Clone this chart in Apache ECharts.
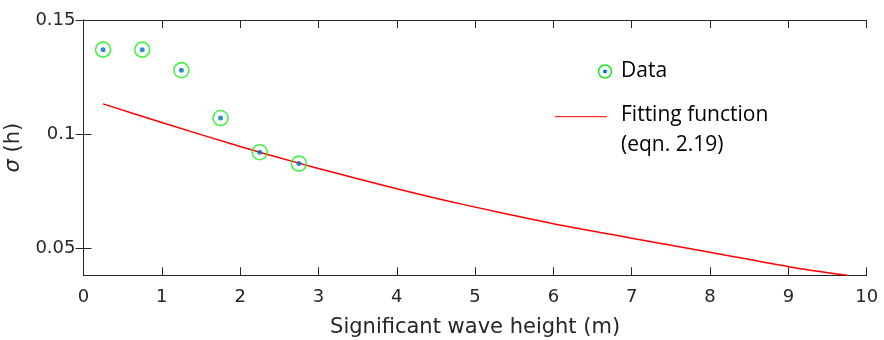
<!DOCTYPE html>
<html>
<head>
<meta charset="utf-8">
<script src="https://cdn.jsdelivr.net/npm/echarts@6/dist/echarts.min.js"></script>
<style>html,body{margin:0;padding:0;background:#fff}#c{width:884px;height:340px}</style>
</head>
<body>
<div id="c"></div>
<script>
// Measured data points
const waveHeight = [0.25, 0.75, 1.25, 1.75, 2.25, 2.75];
const sigmaData = [0.137, 0.137, 0.128, 0.107, 0.092, 0.087];
// Fitting function (eqn. 2.19)
const fitX = [0.25, 1, 2, 2.25, 2.75, 3.15, 4, 4.87, 6, 6.6, 7, 8, 9, 9.75];
const fitY = [0.1132, 0.1050, 0.0945, 0.0920, 0.0872, 0.0835, 0.0760, 0.0689, 0.0606, 0.0568, 0.0543, 0.0481, 0.0418, 0.0380];
const yTicks = [0.05, 0.1, 0.15];

const axisColor = '#262626';
const chart = echarts.init(document.getElementById('c'), null, {renderer: 'canvas'});
const commonLine = {show: true, lineStyle: {color: axisColor, width: 1}};
const tickIn = {show: true, inside: true, length: 8, lineStyle: {color: axisColor, width: 1}};

chart.setOption({
  animation: false,
  backgroundColor: '#fff',
  grid: {left: 83.5, right: 17.3, top: 20, bottom: 64.7, containLabel: false, outerBoundsMode: 'none'},
  xAxis: [{
    type: 'value', min: 0, max: 10, interval: 1, position: 'bottom',
    axisLine: commonLine, axisTick: tickIn, splitLine: {show: false},
    axisLabel: {color: axisColor, fontFamily: 'DejaVu Sans', fontSize: 18, margin: 13},
    name: 'Significant wave height (m)', nameLocation: 'middle', nameGap: 42,
    nameTextStyle: {color: axisColor, fontFamily: 'DejaVu Sans', fontSize: 21}
  }, {
    type: 'value', min: 0, max: 10, interval: 1, position: 'top',
    axisLine: commonLine, axisTick: tickIn, splitLine: {show: false},
    axisLabel: {show: false}
  }],
  yAxis: [{
    type: 'value', min: 0.038, max: 0.15, position: 'left',
    axisLine: commonLine,
    axisTick: Object.assign({}, tickIn, {customValues: yTicks}),
    splitLine: {show: false},
    axisLabel: {customValues: yTicks, color: axisColor, fontFamily: 'DejaVu Sans', fontSize: 18, margin: 8},
    name: '{i|σ} (h)', nameLocation: 'middle', nameGap: 57,
    nameTextStyle: {color: axisColor, fontFamily: 'DejaVu Sans', fontSize: 21,
      rich: {i: {fontStyle: 'italic', fontFamily: 'DejaVu Sans', fontSize: 21, color: axisColor}}}
  }, {
    type: 'value', min: 0.038, max: 0.15, position: 'right',
    axisLine: commonLine,
    axisTick: Object.assign({}, tickIn, {customValues: yTicks}),
    splitLine: {show: false},
    axisLabel: {show: false}
  }],
  series: [{
    name: 'Fitting function (eqn. 2.19)', type: 'line', smooth: 0.3,
    data: fitX.map((x, i) => [x, fitY[i]]),
    showSymbol: false, symbol: 'none',
    lineStyle: {color: '#ff0000', width: 1.5}, z: 2
  }, {
    name: 'Data', type: 'scatter', symbol: 'circle', symbolSize: 15,
    data: waveHeight.map((x, i) => [x, sigmaData[i]]),
    itemStyle: {color: 'rgba(0,0,0,0)', borderColor: '#1aee1a', borderWidth: 1.6}, z: 3
  }, {
    name: 'Data dot', type: 'scatter', symbol: 'circle', symbolSize: 5,
    data: waveHeight.map((x, i) => [x, sigmaData[i]]),
    itemStyle: {color: '#0072BD'}, z: 4
  }],
  graphic: [
    {type: 'circle', shape: {cx: 605, cy: 71.5, r: 6.5}, style: {fill: 'none', stroke: '#1aee1a', lineWidth: 1.5}},
    {type: 'circle', shape: {cx: 605, cy: 71.5, r: 2}, style: {fill: '#0072BD'}},
    {type: 'text', x: 621, y: 71.5, style: {text: 'Data', font: '21px "Open Sans"', fill: '#000', verticalAlign: 'middle'}},
    {type: 'line', shape: {x1: 555, y1: 116.7, x2: 607, y2: 116.7}, style: {stroke: '#ff0000', lineWidth: 1}},
    {type: 'text', x: 621, y: 115, style: {text: 'Fitting function', font: '21px "Open Sans"', fill: '#000', verticalAlign: 'middle'}},
    {type: 'text', x: 621, y: 145, style: {text: '(eqn. 2.19)', font: '21px "Open Sans"', fill: '#000', verticalAlign: 'middle'}}
  ]
});
</script>
</body>
</html>
